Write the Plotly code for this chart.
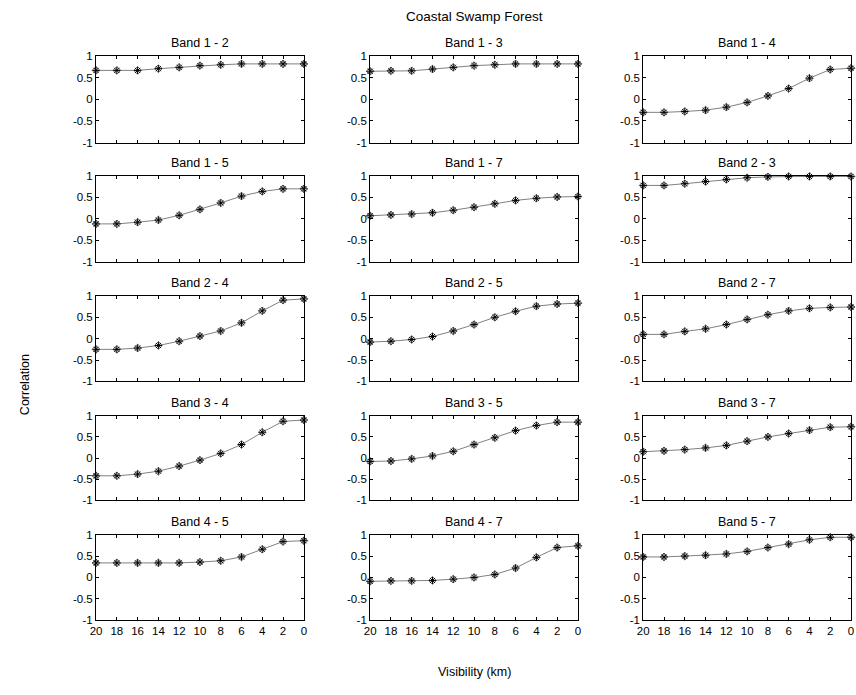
import plotly.graph_objects as go

visibility = [20, 18, 16, 14, 12, 10, 8, 6, 4, 2, 0]

band_names = ["Band 1 - 2", "Band 1 - 3", "Band 1 - 4",
              "Band 1 - 5", "Band 1 - 7", "Band 2 - 3",
              "Band 2 - 4", "Band 2 - 5", "Band 2 - 7",
              "Band 3 - 4", "Band 3 - 5", "Band 3 - 7",
              "Band 4 - 5", "Band 4 - 7", "Band 5 - 7"]

b12 = [0.67, 0.67, 0.67, 0.71, 0.74, 0.78, 0.80, 0.82, 0.82, 0.82, 0.82]
b13 = [0.65, 0.66, 0.66, 0.70, 0.74, 0.78, 0.80, 0.82, 0.82, 0.82, 0.82]
b14 = [-0.30, -0.30, -0.28, -0.25, -0.18, -0.07, 0.08, 0.25, 0.49, 0.69, 0.72]
b15 = [-0.12, -0.12, -0.08, -0.03, 0.08, 0.22, 0.37, 0.53, 0.64, 0.70, 0.70]
b17 = [0.07, 0.09, 0.11, 0.14, 0.20, 0.27, 0.35, 0.43, 0.48, 0.51, 0.52]
b23 = [0.78, 0.78, 0.82, 0.87, 0.92, 0.96, 0.98, 0.99, 0.99, 0.99, 0.99]
b24 = [-0.25, -0.25, -0.22, -0.16, -0.06, 0.06, 0.18, 0.37, 0.65, 0.90, 0.93]
b25 = [-0.08, -0.06, -0.02, 0.05, 0.18, 0.33, 0.50, 0.64, 0.76, 0.81, 0.83]
b27 = [0.10, 0.10, 0.17, 0.23, 0.33, 0.45, 0.56, 0.65, 0.71, 0.73, 0.74]
b34 = [-0.42, -0.42, -0.38, -0.31, -0.19, -0.05, 0.11, 0.32, 0.61, 0.87, 0.90]
b35 = [-0.08, -0.07, -0.02, 0.05, 0.16, 0.32, 0.48, 0.65, 0.77, 0.85, 0.85]
b37 = [0.15, 0.17, 0.20, 0.24, 0.30, 0.40, 0.50, 0.58, 0.66, 0.73, 0.74]
b45 = [0.34, 0.34, 0.34, 0.34, 0.34, 0.36, 0.39, 0.48, 0.66, 0.84, 0.86]
b47 = [-0.09, -0.08, -0.08, -0.07, -0.04, 0.00, 0.07, 0.22, 0.47, 0.70, 0.74]
b57 = [0.48, 0.48, 0.50, 0.52, 0.55, 0.61, 0.70, 0.78, 0.88, 0.94, 0.94]

series = [b12, b13, b14, b15, b17, b23, b24, b25, b27, b34, b35, b37, b45, b47, b57]

x_ticks = [20, 18, 16, 14, 12, 10, 8, 6, 4, 2, 0]
y_ticks = [-1, -0.5, 0, 0.5, 1]
y_tick_text = ["-1", "-0.5", "0", "0.5", "1"]

W, H = 856, 695
col_px = [(91, 301), (368, 578), (644, 854)]
row_px = [(51, 139), (173, 260), (295, 382), (417, 503), (538, 625)]

FONT = "Liberation Sans, Arial, sans-serif"

fig = go.Figure()
layout = dict(
    width=W, height=H,
    margin=dict(l=0, r=0, t=0, b=0),
    paper_bgcolor="white", plot_bgcolor="white",
    showlegend=False,
    font=dict(family=FONT, size=11.5, color="black"),
)
annotations = []

for i, (name, vals) in enumerate(zip(band_names, series)):
    r, c = divmod(i, 3)
    k = i + 1
    xs = "" if k == 1 else str(k)
    xa, ya = "x" + xs, "y" + xs
    x0, x1 = col_px[c]
    y0, y1 = row_px[r]
    xdom = [x0 / W, x1 / W]
    ydom = [1 - y1 / H, 1 - y0 / H]
    fig.add_trace(go.Scatter(
        x=visibility, y=vals, xaxis=xa, yaxis=ya, mode="lines+markers",
        line=dict(color="#808080", width=1),
        marker=dict(symbol="diamond-open", size=6, color="#666666",
                    line=dict(width=1, color="#666666")),
        cliponaxis=False, hoverinfo="skip"))
    fig.add_trace(go.Scatter(
        x=visibility, y=vals, xaxis=xa, yaxis=ya, mode="markers",
        marker=dict(symbol="asterisk-open", size=6, color="black",
                    line=dict(width=1, color="black")),
        cliponaxis=False, hoverinfo="skip"))
    layout["xaxis" + xs] = dict(
        domain=xdom, anchor=ya, range=[20, 0], autorange=False,
        tickvals=x_ticks, ticktext=[str(v) for v in x_ticks],
        showticklabels=(r == 4), ticks="inside", ticklen=3,
        tickcolor="black", showline=True, linecolor="black", linewidth=1,
        mirror="ticks", showgrid=False, zeroline=False,
        tickfont=dict(size=11.5, family=FONT, color="black"))
    layout["yaxis" + xs] = dict(
        domain=ydom, anchor=xa, range=[-1, 1], autorange=False,
        tickvals=y_ticks, ticktext=y_tick_text, ticks="inside", ticklen=3,
        tickcolor="black", showline=True, linecolor="black", linewidth=1,
        mirror="ticks", showgrid=False, zeroline=False,
        tickfont=dict(size=11.5, family=FONT, color="black"))
    annotations.append(dict(
        text=name, x=(xdom[0] + xdom[1]) / 2, y=ydom[1], xref="paper",
        yref="paper", xanchor="center", yanchor="bottom", yshift=4,
        showarrow=False, font=dict(size=12.5, family=FONT, color="black")))

annotations.append(dict(
    text="Coastal Swamp Forest", x=473 / W, y=1 - 11 / H, xref="paper",
    yref="paper", xanchor="center", yanchor="middle", showarrow=False,
    font=dict(size=13.5, family=FONT, color="black")))
annotations.append(dict(
    text="Visibility (km)", x=473 / W, y=1 - 678 / H, xref="paper",
    yref="paper", xanchor="center", yanchor="middle", showarrow=False,
    font=dict(size=12.5, family=FONT, color="black")))
annotations.append(dict(
    text="Correlation", x=20 / W, y=1 - 385 / H, xref="paper",
    yref="paper", xanchor="center", yanchor="middle", textangle=-90,
    showarrow=False, font=dict(size=12.5, family=FONT, color="black")))

layout["annotations"] = annotations
fig.update_layout(**layout)
fig.write_html("out.html")
